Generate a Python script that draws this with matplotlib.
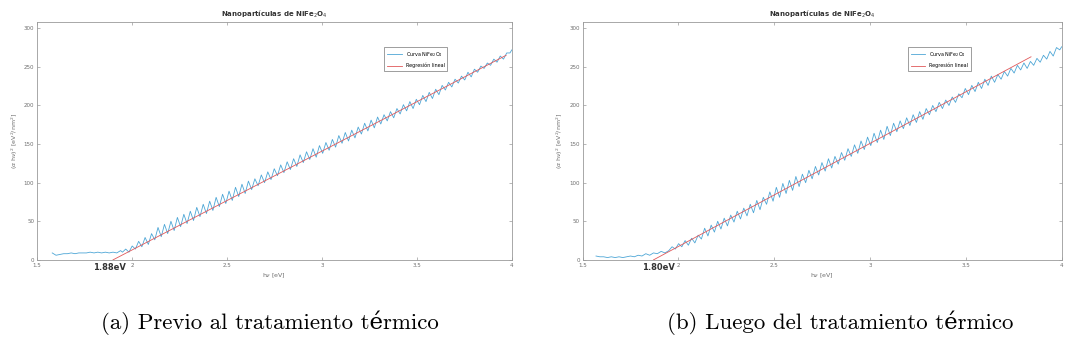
import numpy as np
import matplotlib
matplotlib.use("Agg")
import matplotlib.pyplot as plt

# energy grid where the oscillating part is sampled (half-period steps)
osc_x = np.round(np.arange(121) * 0.017 + 1.95, 3)

# --- panel (a): before heat treatment ---
flat_a_x = [1.58, 1.60, 1.62, 1.64, 1.66, 1.68, 1.70, 1.72, 1.74, 1.76, 1.78,
            1.80, 1.82, 1.84, 1.86, 1.88, 1.90, 1.92, 1.94]
flat_a_y = [9, 6, 7, 8, 8, 9, 8, 9, 9, 9, 10, 9, 10, 9, 10, 9, 10, 9, 12]
osc_a_y = [10, 14, 10, 18, 14, 24, 17, 29, 20, 34,
           26, 42, 30, 46, 34, 50, 38, 55, 43, 59,
           47, 63, 51, 68, 56, 72, 60, 76, 64, 81,
           69, 85, 73, 89, 77, 94, 82, 98, 86, 102,
           91, 105, 96, 110, 100, 114, 104, 118, 109, 123,
           113, 127, 117, 131, 121, 136, 126, 140, 130, 144,
           133, 148, 138, 152, 142, 156, 146, 161, 151, 165,
           154, 168, 158, 172, 163, 177, 167, 181, 171, 185,
           176, 188, 180, 192, 184, 196, 189, 201, 193, 205,
           196, 208, 201, 213, 205, 217, 209, 221, 214, 226,
           220, 230, 224, 234, 229, 238, 233, 243, 237, 247,
           243, 251, 248, 255, 252, 260, 256, 264, 260, 268,
           268]
reg_a_x = [1.90, 3.97]
reg_a_y = [0, 265]
gap_a = "1.88eV"

# --- panel (b): after heat treatment ---
flat_b_x = [1.57, 1.59, 1.61, 1.63, 1.65, 1.67, 1.69, 1.71, 1.73, 1.75, 1.77,
            1.79, 1.81, 1.83, 1.85, 1.87, 1.89, 1.91, 1.93]
flat_b_y = [5, 4, 4, 3, 4, 3, 4, 3, 4, 5, 4, 6, 5, 8, 6, 9, 8, 11, 9]
osc_b_y = [12, 17, 14, 21, 17, 25, 19, 28, 22, 32,
           27, 41, 31, 45, 36, 50, 40, 54, 44, 58,
           49, 63, 53, 67, 57, 72, 61, 77, 65, 81,
           72, 88, 76, 94, 81, 99, 86, 103, 90, 108,
           95, 111, 100, 116, 105, 121, 110, 126, 115, 131,
           119, 134, 124, 139, 129, 144, 134, 149, 138, 154,
           143, 159, 148, 164, 152, 168, 156, 173, 161, 177,
           166, 180, 170, 184, 174, 188, 178, 192, 182, 196,
           188, 200, 192, 204, 196, 207, 200, 211, 204, 215,
           210, 222, 214, 226, 218, 230, 222, 234, 226, 238,
           230, 240, 234, 244, 238, 248, 242, 252, 246, 255,
           248, 257, 252, 261, 256, 265, 260, 270, 264, 275,
           272]
reg_b_x = [1.87, 3.84]
reg_b_y = [0, 263]
gap_b = "1.80eV"

captions = ["(a) Previo al tratamiento térmico", "(b) Luego del tratamiento térmico"]

curve_col = "#4da6d6"
reg_col = "#e0585a"
axis_col = "#9a9a9a"
text_col = "#6e6e6e"

fig = plt.figure(figsize=(10.67, 3.56), dpi=100)
ax_a = fig.add_axes([0.0347, 0.270, 0.445, 0.668])
ax_b = fig.add_axes([0.546, 0.270, 0.449, 0.668])

panels = [
    (ax_a, flat_a_x, flat_a_y, osc_a_y, reg_a_x, reg_a_y, gap_a, 1.88, (0.726, 0.905)),
    (ax_b, flat_b_x, flat_b_y, osc_b_y, reg_b_x, reg_b_y, gap_b, 1.895, (0.674, 0.905)),
]

for ax, fx, fy, oy, rx, ry, gap, gx, leg_pos in panels:
    xs = list(fx) + list(osc_x) + [4.0]
    ys = list(fy) + list(oy) + [oy[-1] + 4]
    ax.plot(xs, ys, color=curve_col, lw=0.6, label="Curva NiFe$_2$O$_4$")
    ax.plot(rx, ry, color=reg_col, lw=0.6, label="Regresión lineal")
    ax.set_xlim(1.5, 4)
    ax.set_ylim(0, 308)
    ax.set_xticks([1.5, 2, 2.5, 3, 3.5, 4])
    ax.set_xticklabels(["1.5", "2", "2.5", "3", "3.5", "4"])
    ax.set_yticks([0, 50, 100, 150, 200, 250, 300])
    ax.tick_params(direction="in", length=2.5, width=0.5, labelsize=4,
                   colors=axis_col, labelcolor=text_col, top=True, right=True, pad=2)
    for s in ax.spines.values():
        s.set_color(axis_col)
        s.set_linewidth(0.6)
    ax.set_title("Nanopartículas de NiFe$_2$O$_4$", fontsize=5, fontweight="bold",
                  color="#333333", pad=4)
    ax.set_xlabel(r"h$\nu$ [eV]", fontsize=4.5, color=text_col, labelpad=3)
    ax.set_ylabel(r"($\alpha$ h$\nu$)$^2$ [eV$^2$/nm$^2$]", fontsize=4.5,
                  color=text_col, labelpad=3)
    ax.text(gx, -4, gap, fontsize=6, fontweight="bold", color="#333333",
            ha="center", va="top")
    leg = ax.legend(loc="upper left", bbox_to_anchor=leg_pos, fontsize=3.5,
                    frameon=True, fancybox=False, handlelength=3, borderpad=0.6,
                    labelspacing=0.8)
    leg.get_frame().set_edgecolor("#555555")
    leg.get_frame().set_linewidth(0.5)

for cx, cap in zip([0.253, 0.787], captions):
    fig.text(cx, 0.093, cap, ha="center", va="center", fontsize=16.5,
             family=["cmr10", "DejaVu Serif"])

fig.savefig("out.png", dpi=100)
